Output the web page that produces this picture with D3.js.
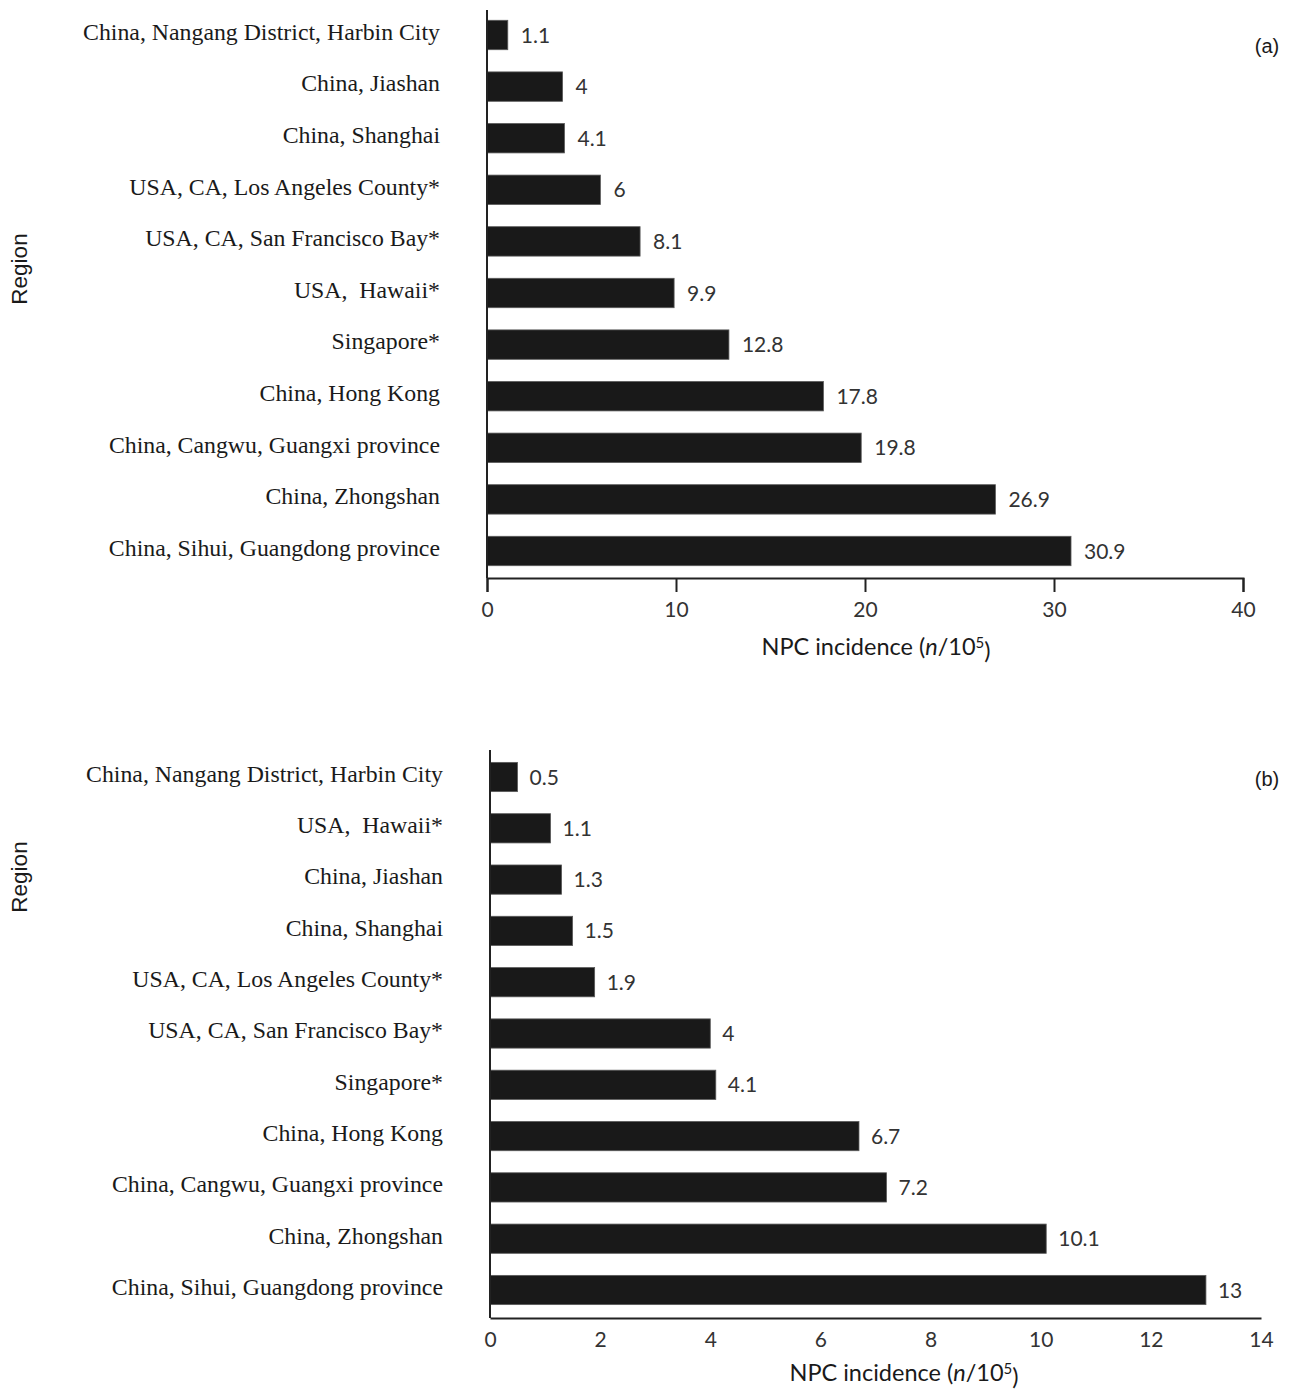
<!DOCTYPE html>
<html>
<head>
<meta charset="utf-8">
<script src="https://cdn.jsdelivr.net/npm/d3@7/dist/d3.min.js"></script>
<style>
  html, body { margin: 0; padding: 0; background: #fff; }
  svg { display: block; }
</style>
</head>
<body>
<svg id="chart" width="1291" height="1390"></svg>
<script>
// NPC incidence per 100,000 by region; (a) and (b) panels
const regionsA = [
  "China, Nangang District, Harbin City",
  "China, Jiashan",
  "China, Shanghai",
  "USA, CA, Los Angeles County*",
  "USA, CA, San Francisco Bay*",
  "USA,  Hawaii*",
  "Singapore*",
  "China, Hong Kong",
  "China, Cangwu, Guangxi province",
  "China, Zhongshan",
  "China, Sihui, Guangdong province"
];
const valuesA = [1.1, 4, 4.1, 6, 8.1, 9.9, 12.8, 17.8, 19.8, 26.9, 30.9];
const ticksA = [0, 10, 20, 30, 40];

const regionsB = [
  "China, Nangang District, Harbin City",
  "USA,  Hawaii*",
  "China, Jiashan",
  "China, Shanghai",
  "USA, CA, Los Angeles County*",
  "USA, CA, San Francisco Bay*",
  "Singapore*",
  "China, Hong Kong",
  "China, Cangwu, Guangxi province",
  "China, Zhongshan",
  "China, Sihui, Guangdong province"
];
const valuesB = [0.5, 1.1, 1.3, 1.5, 1.9, 4, 4.1, 6.7, 7.2, 10.1, 13];
const ticksB = [0, 2, 4, 6, 8, 10, 12, 14];

const panelTags = ["(a)", "(b)"];
const axisTitle = "NPC incidence";
const yTitle = "Region";

const svg = d3.select("#chart");

const SERIF = "'Liberation Serif', 'Times New Roman', serif";
const SANS = "Lato, 'Open Sans', sans-serif";
const ARIAL = "'Liberation Sans', Arial, sans-serif";

const panels = [
  {
    regions: regionsA, values: valuesA, ticks: ticksA, tag: panelTags[0],
    xRange: [487, 1243], band: [9.2, 576.8], axisY: 578, top: 10,
    tickLen: 14, tickPad: 10.5, titleX: 876, titleY: 655,
    tagPos: [1267, 46], regionY: 269, labelX: 440, valueGap: 13
  },
  {
    regions: regionsB, values: valuesB, ticks: ticksB, tag: panelTags[1],
    xRange: [490, 1261], band: [751.35, 1315.65], axisY: 1318, top: 750,
    tickLen: 0, tickPad: 14.5, titleX: 904, titleY: 1381,
    tagPos: [1267, 779], regionY: 877, labelX: 443, valueGap: 12
  }
];

panels.forEach(p => {
  const g = svg.append("g");
  const domainMax = p.ticks[p.ticks.length - 1];

  const x = d3.scaleLinear().domain([0, domainMax]).range(p.xRange);
  const y = d3.scaleBand()
    .domain(p.regions)
    .range(p.band)
    .paddingInner(0.43)
    .paddingOuter(0.215);

  // bars
  g.selectAll("rect.bar")
    .data(p.values)
    .join("rect")
    .attr("class", "bar")
    .attr("x", x(0))
    .attr("y", (d, i) => y(p.regions[i]))
    .attr("width", d => x(d) - x(0))
    .attr("height", y.bandwidth())
    .attr("fill", "#191919")
    .attr("stroke", "#5a5a5a")
    .attr("stroke-width", 0.8);

  // value labels
  g.selectAll("text.val")
    .data(p.values)
    .join("text")
    .attr("class", "val")
    .attr("x", d => x(d) + p.valueGap)
    .attr("y", (d, i) => y(p.regions[i]) + y.bandwidth() / 2)
    .attr("dy", "0.36em")
    .attr("font-family", SANS)
    .attr("font-size", 21)
    .attr("fill", "#333")
    .text(d => d);

  // region labels
  g.selectAll("text.reg")
    .data(p.regions)
    .join("text")
    .attr("class", "reg")
    .attr("x", p.labelX)
    .attr("y", d => y(d) + y.bandwidth() / 2 - 3)
    .attr("dy", "0.33em")
    .attr("text-anchor", "end")
    .attr("font-family", SERIF)
    .attr("font-size", 23.8)
    .attr("fill", "#1a1a1a")
    .style("white-space", "pre")
    .text(d => d);

  // vertical axis line
  g.append("line")
    .attr("x1", x(0)).attr("x2", x(0))
    .attr("y1", p.top).attr("y2", p.axisY)
    .attr("stroke", "#222").attr("stroke-width", 2);

  // horizontal axis
  const xAxis = d3.axisBottom(x)
    .tickValues(p.ticks)
    .tickFormat(d3.format("d"))
    .tickSizeInner(p.tickLen)
    .tickSizeOuter(p.tickLen)
    .tickPadding(p.tickPad);

  const ax = g.append("g")
    .attr("transform", `translate(0,${p.axisY})`)
    .call(xAxis);
  ax.select(".domain").attr("stroke", "#222").attr("stroke-width", 2);
  ax.selectAll(".tick line").attr("stroke", "#222").attr("stroke-width", 2);
  ax.selectAll(".tick text")
    .attr("font-family", SANS)
    .attr("font-size", 21)
    .attr("fill", "#333");

  // axis title with italic n and superscript 5
  const t = g.append("text")
    .attr("x", p.titleX)
    .attr("y", p.titleY)
    .attr("text-anchor", "middle")
    .attr("font-family", SANS)
    .attr("font-size", 23.5)
    .attr("fill", "#1a1a1a");
  t.append("tspan").text(axisTitle + " (");
  t.append("tspan").attr("font-style", "italic").text("n");
  t.append("tspan").text("/10");
  t.append("tspan").attr("dy", "-0.5em").attr("font-size", 15).text("5");
  t.append("tspan").attr("dy", "0.5em").text(")");

  // panel tag
  g.append("text")
    .attr("x", p.tagPos[0])
    .attr("y", p.tagPos[1])
    .attr("dy", "0.35em")
    .attr("text-anchor", "middle")
    .attr("font-family", ARIAL)
    .attr("font-size", 20)
    .attr("fill", "#1a1a1a")
    .text(p.tag);

  // rotated y title
  g.append("text")
    .attr("transform", `translate(27,${p.regionY}) rotate(-90)`)
    .attr("text-anchor", "middle")
    .attr("font-family", ARIAL)
    .attr("font-size", 22.5)
    .attr("fill", "#1a1a1a")
    .text(yTitle);
});
</script>
</body>
</html>
